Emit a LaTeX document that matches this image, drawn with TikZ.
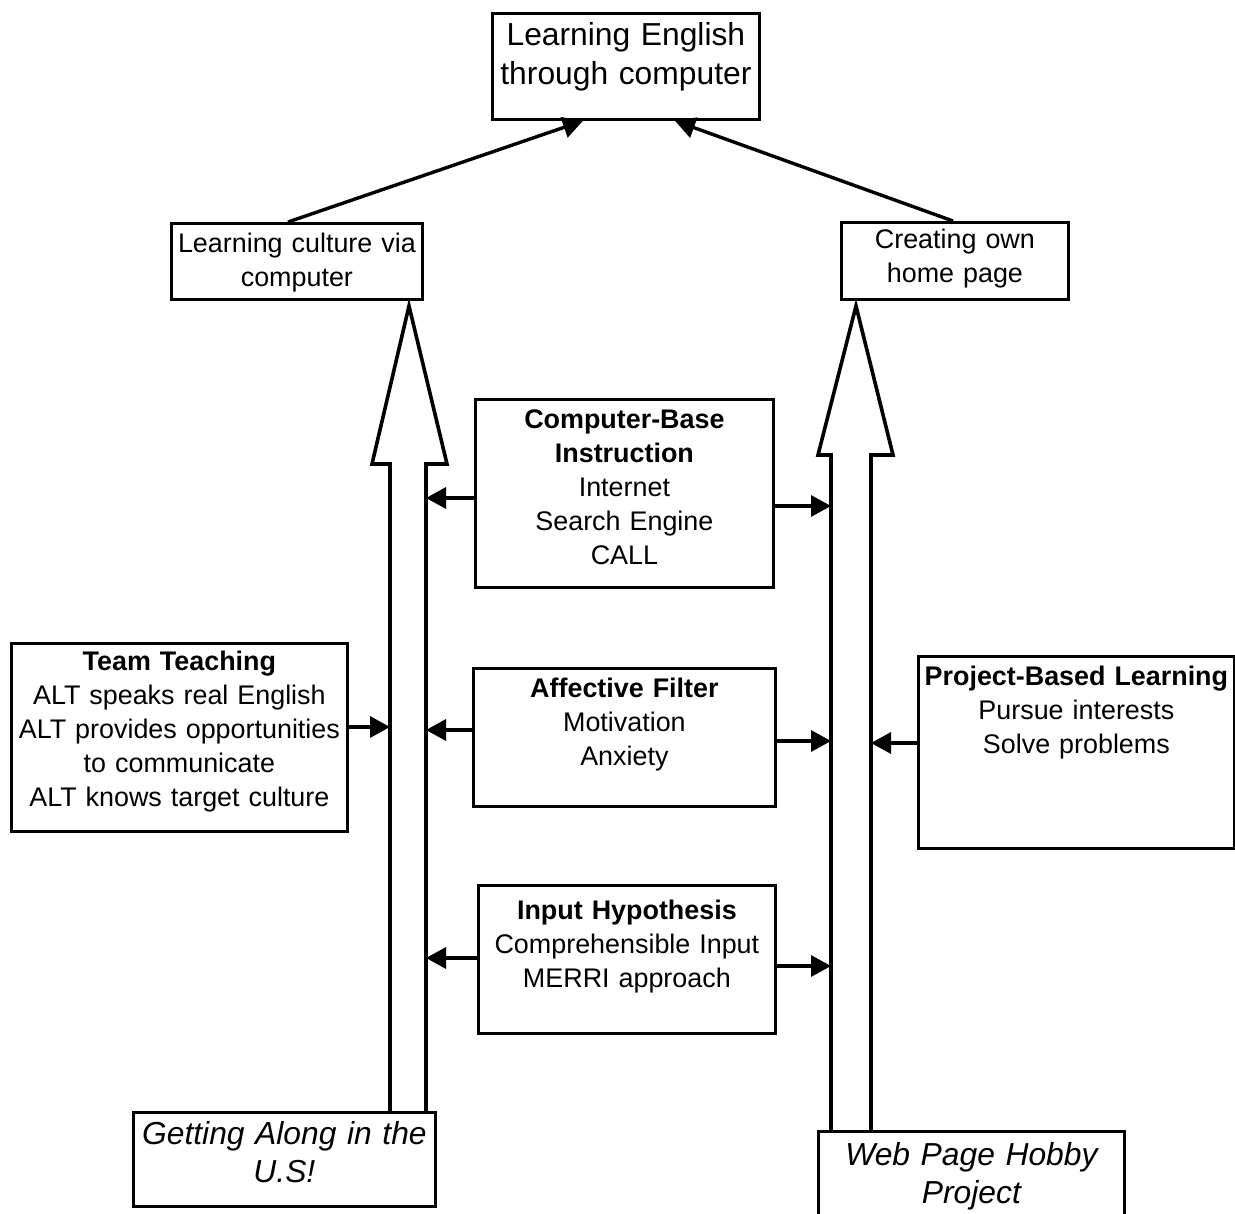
\documentclass[tikz,border=0pt]{standalone}
\usepackage{fontspec}
\setmainfont{Liberation Sans}
\usetikzlibrary{arrows.meta}
\newcommand{\bodysize}{\fontsize{26.9}{34}\selectfont}
\newcommand{\bigsize}{\fontsize{31.8}{39}\selectfont}
\newcommand{\itsize}{\fontsize{31.8}{38}\selectfont\itshape}

\begin{document}
\begin{tikzpicture}[x=1pt,y=-1pt,
    box/.style={draw,line width=2.8,align=center,inner xsep=4,anchor=north west,font=\bodysize},
    conn/.style={line width=3.4,-{Triangle[length=20pt,width=21pt]}},
    hollow/.style={line width=3.6,line join=miter}]
  \useasboundingbox (0,0) rectangle (1235,1214);
  % boxes
  \node[box,font=\bigsize,text width=259,inner ysep=9,text depth=65] (top) at (491,12)
    {Learning English\\through computer};
  \node[box,text width=243,inner ysep=9.3,text depth=38.1] (cult) at (170,222)
    {Learning culture via\\computer};
  \node[box,text width=219,inner ysep=6.3,text depth=45.1] (crea) at (840,221)
    {Creating own\\home page};
  \node[box,text width=290,inner ysep=10.3,text depth=149.1] (cbi) at (474,398)
    {\textbf{Computer-Base}\\\textbf{Instruction}\\Internet\\Search Engine\\CALL};
  \node[box,text width=294,inner ysep=9.3,text depth=100.1] (aff) at (472,667)
    {\textbf{Affective Filter}\\Motivation\\Anxiety};
  \node[box,text width=289,inner ysep=14.3,text depth=100.1] (inp) at (477,884)
    {\textbf{Input Hypothesis}\\Comprehensible Input\\MERRI approach};
  \node[box,text width=328,inner ysep=7.3,text depth=154.1] (team) at (10,642)
    {\textbf{Team Teaching}\\ALT speaks real English\\ALT provides opportunities\\to communicate\\ALT knows target culture};
  \node[box,text width=308,inner ysep=9.3,text depth=154.1] (proj) at (917,655)
    {\textbf{Project-Based Learning}\\Pursue interests\\Solve problems};
  \node[box,font=\itsize,text width=294,inner ysep=8.6,text depth=54] (gal) at (132,1111)
    {Getting Along in the\\U.S!};
  \node[box,font=\itsize,text width=298,inner ysep=10.6,text depth=60] (web) at (817,1130)
    {Web Page Hobby\\Project};
  % hollow arrows
  \coordinate (ls) at (390,0);
  \coordinate (lsr) at (426,0);
  \coordinate (rs) at (831,0);
  \coordinate (rsr) at (871,0);
  \draw[hollow] (ls |- gal.north) -- (ls |- 0,464) -- (372,464) -- (409,306)
    -- (447,464) -- (lsr |- 0,464) -- (lsr |- gal.north);
  \draw[hollow] (rs |- web.north) -- (rs |- 0,455) -- (818,455) -- (856,306)
    -- (893,455) -- (rsr |- 0,455) -- (rsr |- web.north);
  % connectors
  \draw[conn] (288,0 |- cult.north) -- (583,0 |- top.south);
  \draw[conn] (953,0 |- crea.north) -- (675,0 |- top.south);
  \draw[conn] (cbi.west |- 0,498) -- (lsr |- 0,498);
  \draw[conn] (cbi.east |- 0,506) -- (rs |- 0,506);
  \draw[conn] (aff.west |- 0,730) -- (lsr |- 0,730);
  \draw[conn] (aff.east |- 0,741) -- (rs |- 0,741);
  \draw[conn] (inp.west |- 0,958) -- (lsr |- 0,958);
  \draw[conn] (inp.east |- 0,966) -- (rs |- 0,966);
  \draw[conn] (team.east |- 0,727) -- (ls |- 0,727);
  \draw[conn] (proj.west |- 0,743) -- (rsr |- 0,743);
\end{tikzpicture}
\end{document}
